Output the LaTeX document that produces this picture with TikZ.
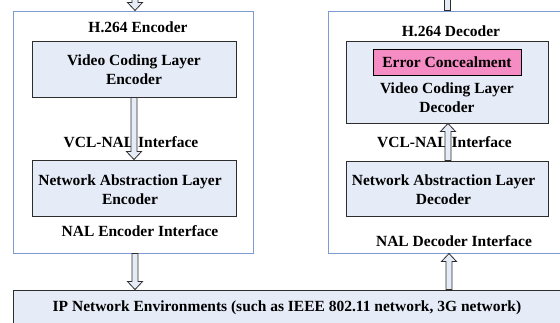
\documentclass[tikz,border=0pt]{standalone}
\usepackage{fontspec}
\setmainfont{Liberation Serif}
\usetikzlibrary{calc}
\definecolor{outerc}{RGB}{125,155,210}
\definecolor{innerfill}{RGB}{230,236,247}
\definecolor{innerdraw}{RGB}{45,45,45}
\definecolor{pinkfill}{RGB}{245,140,195}
\newcommand\lblfont{\bfseries\fontsize{15.5}{19}\selectfont}
\tikzset{
  outerbox/.style={draw=outerc, line width=1pt, fill=white, inner sep=0pt},
  innerbox/.style={draw=innerdraw, line width=0.9pt, fill=innerfill, inner sep=0pt},
  pinkbox/.style={draw=black, line width=0.9pt, fill=pinkfill, inner sep=0pt},
  lbl/.style={font=\lblfont, inner sep=0pt, align=center},
  blockarrow/.style={draw=innerdraw, line width=0.8pt, fill=innerfill, line join=miter},
}
\newcommand\hollowarrow[2]{%
  \draw[blockarrow] let \p1=#1, \p2=#2,
    \n2={ifthenelse(\y2>\y1,\y2-8pt,\y2+8pt)} in
    (\x1-3pt,\y1) -- (\x1-3pt,{\n2*1pt}) -- (\x1-7.5pt,{\n2*1pt}) -- (\x1,\y2)
    -- (\x1+7.5pt,{\n2*1pt}) -- (\x1+3pt,{\n2*1pt}) -- (\x1+3pt,\y1) -- cycle;}
\begin{document}
\begin{tikzpicture}[x=1pt,y=-1pt]
\useasboundingbox (0,0) rectangle (560,322);
% outer containers
\node[outerbox, minimum width=240pt, minimum height=242pt] (enc) at (133,132) {};
\node[outerbox, minimum width=240pt, minimum height=242pt] (dec) at (448,132) {};
\node[innerbox, minimum width=587pt, minimum height=70pt] (ip) at (306.5,325) {};
% inner boxes
\node[innerbox, minimum width=204pt, minimum height=56pt] (encvcl) at (134,69) {};
\node[innerbox, minimum width=204pt, minimum height=56pt] (encnal) at (134,188) {};
\node[innerbox, minimum width=202pt, minimum height=82pt] (decvcl) at (447,82) {};
\node[pinkbox, minimum width=148pt, minimum height=26pt] (ec) at (447,62) {};
\node[innerbox, minimum width=202pt, minimum height=55pt] (decnal) at (447,188.5) {};
% labels
\node[lbl] (enct) at (138,27) {H.264 Encoder};
\node[lbl] (encvclt) at (134,69.5) {Video Coding Layer\\Encoder};
\node[lbl] (encif) at (131,142) {VCL-NAL Interface};
\node[lbl] (encnalt) at (130,190) {Network Abstraction Layer\\Encoder};
\node[lbl] (encnalif) at (140,231) {NAL Encoder Interface};
\node[lbl] (dect) at (451,31) {H.264 Decoder};
\node[lbl] (ect) at (447,62.5) {Error Concealment};
\node[lbl] (decvclt) at (447,97.5) {Video Coding Layer\\Decoder};
\node[lbl] (decif) at (444.5,142) {VCL-NAL Interface};
\node[lbl] (decnalt) at (443.5,190) {Network Abstraction Layer\\Decoder};
\node[lbl] (decnalif) at (454,241) {NAL Decoder Interface};
\node[lbl] (ipt) at (287,308) {IP Network Environments (such as IEEE 802.11 network, 3G network)};
% arrows
\coordinate (encin) at (135,-20);
\coordinate (x135) at (135,0);
\coordinate (x448) at (448,0);
\coordinate (x449) at (449,0);
\coordinate (decout) at (447,-5);
\hollowarrow{(encin)}{(enc.north -| encin)}
\hollowarrow{(encvcl.south)}{(encnal.north)}
\hollowarrow{(enc.south -| x135)}{(ip.north -| x135)}
\hollowarrow{(ip.north -| x449)}{(dec.south -| x449)}
\hollowarrow{(decnal.north -| x448)}{(decvcl.south -| x448)}
\draw[blockarrow] ($(dec.north -| decout)+(-3,0)$) rectangle ($(decout)+(3,0)$);
\end{tikzpicture}
\end{document}
